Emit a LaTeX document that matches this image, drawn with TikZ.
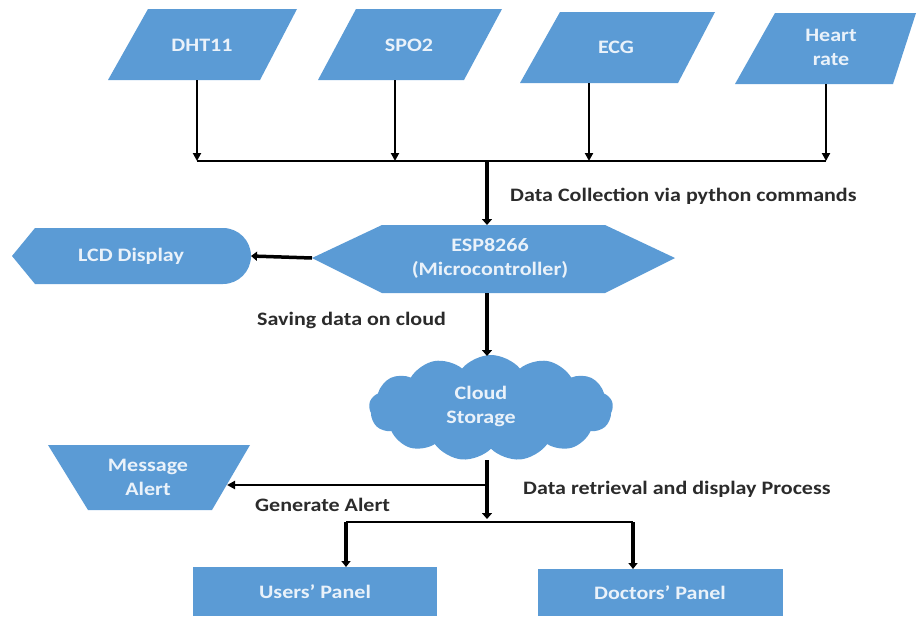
\documentclass[tikz,border=0pt]{standalone}
\usepackage{fontspec}
\setmainfont{Carlito}[FakeStretch=1.16]
\usetikzlibrary{shapes.symbols,arrows.meta}
\definecolor{boxblue}{HTML}{5B9BD5}
\definecolor{intext}{HTML}{EAF2FA}
\definecolor{lbl}{HTML}{2B2B2B}
\begin{document}
\begin{tikzpicture}[x=1pt,y=-1pt,
  shp/.style={fill=boxblue,draw=none},
  intxt/.style={text=intext,font=\fontsize{19}{24}\selectfont\bfseries,align=center,inner sep=0},
  lbltxt/.style={text=lbl,font=\fontsize{19}{23}\selectfont\bfseries,anchor=west,inner sep=0},
  thinarr/.style={line width=2pt,-{Triangle[length=8pt,width=8pt]}},
  thickarr/.style={line width=4.5pt,-{Triangle[length=6pt,width=10pt]}},
  midarr/.style={line width=3.5pt,-{Triangle[length=6pt,width=9pt]}},
  busline/.style={line width=2.2pt}
]
\useasboundingbox (0,0) rectangle (918,619);

% sensors
\fill[shp] (148,9) -- (297,9) -- (260,80) -- (108,80) -- cycle;
\fill[shp] (356,9) -- (502,9) -- (464,80) -- (318,80) -- cycle;
\fill[shp] (560,12) -- (715,12) -- (678,83) -- (520,83) -- cycle;
\fill[shp] (775,13) -- (916,13) -- (893,84) -- (735,84) -- cycle;
\node[intxt] (dht) at (202,45) {DHT11};
\node[intxt] (spo) at (409,45) {SPO2};
\node[intxt] (ecg) at (616,47) {ECG};
\node[intxt] (hr) at (831,47) {Heart\\rate};

\coordinate (dhtb) at (197,80);
\coordinate (spob) at (395,80);
\coordinate (ecgb) at (589,83);
\coordinate (hrb) at (826,84);
\coordinate (b1) at (197,161);
\coordinate (b2) at (395,161);
\coordinate (b3) at (589,161);
\coordinate (b4) at (826,161);
\coordinate (bm) at (487,161);

\draw[thinarr] (dhtb) -- (b1);
\draw[thinarr] (spob) -- (b2);
\draw[thinarr] (ecgb) -- (b3);
\draw[thinarr] (hrb) -- (b4);
\draw[busline] (b1) -- (b4);

% ESP
\fill[shp] (312,258) -- (382,225) -- (605,225) -- (675,258) -- (605,293) -- (382,293) -- cycle;
\node[intxt] (esp) at (490,258) {ESP8266\\(Microcontroller)};
\coordinate (esptop) at (487,225);
\coordinate (espbot) at (487,293);
\coordinate (espleft) at (312,258);
\draw[thickarr] (bm) -- (esptop);
\node[lbltxt] (lcoll) at (510,196) {Data Collection via python commands};

% LCD
\fill[shp] (12,256) -- (35,228) -- (223,228) arc[start angle=-90,end angle=90,radius=28] -- (35,284) -- cycle;
\node[intxt] (lcd) at (131,256) {LCD Display};
\coordinate (lcdr) at (251,256);
\draw[midarr] (espleft) -- (lcdr);

\node[lbltxt] (lsave) at (257,320) {Saving data on cloud};

% cloud
\node[cloud,shp,cloud puffs=13,cloud puff arc=100,aspect=2.4,minimum width=244pt,minimum height=106pt,inner sep=0] (cloud) at (491,408) {};
\node[intxt] (cloudtxt) at (481,406) {Cloud\\Storage};
\coordinate (cloudtop) at (487,356);
\coordinate (cloudbot) at (487,460);
\draw[thickarr] (espbot) -- (cloudtop);

% message alert
\fill[shp] (48,445) -- (250,445) -- (212,510) -- (88,510) -- cycle;
\node[intxt] (msg) at (148,477) {Message\\Alert};
\coordinate (msgr) at (227,485);
\coordinate (alertj) at (488,485);
\coordinate (split) at (487,519);
\draw[thickarr] (cloudbot) -- (split);
\draw[thinarr] (alertj) -- (msgr);
\node[lbltxt] (lgen) at (255,505) {Generate Alert};
\node[lbltxt] (lret) at (523,489) {Data retrieval and display Process};

% panels
\fill[shp] (193,567) rectangle (437,616);
\fill[shp] (538,569) rectangle (783,616);
\node[intxt] (users) at (315,592) {Users’ Panel};
\node[intxt] (docs) at (660,593) {Doctors’ Panel};
\coordinate (sl) at (346,522);
\coordinate (sr) at (633,522);
\coordinate (ut) at (346,567);
\coordinate (dt) at (633,569);
\draw[busline] (sl) -- (sr);
\draw[midarr] (sl) -- (ut);
\draw[midarr] (sr) -- (dt);
\end{tikzpicture}
\end{document}
